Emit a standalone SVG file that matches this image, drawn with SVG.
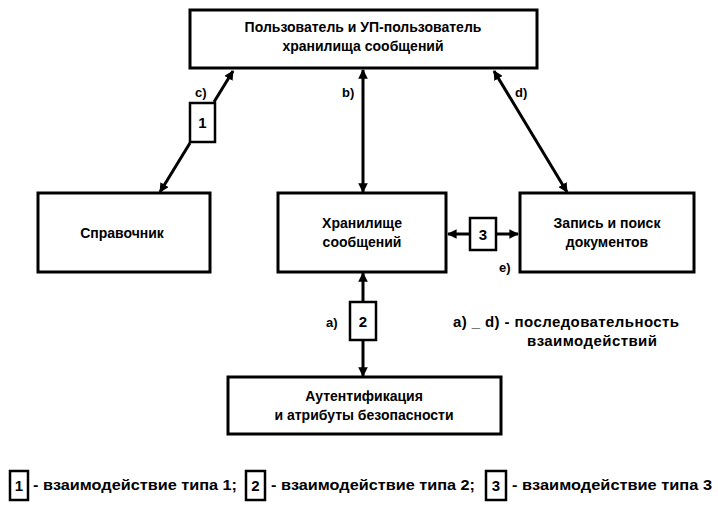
<svg xmlns="http://www.w3.org/2000/svg" width="718" height="514" viewBox="0 0 718 514">
<style>
.box{fill:#fff;stroke:#000;stroke-width:3}
.sbox{fill:#fff;stroke:#000;stroke-width:2.5}
.t{font-family:"Liberation Sans",Arial,sans-serif;font-weight:bold;font-size:14px;fill:#000;text-anchor:middle}
.n{font-family:"Liberation Sans",Arial,sans-serif;font-weight:bold;font-size:15px;fill:#000;text-anchor:middle}
.l{font-family:"Liberation Sans",Arial,sans-serif;font-weight:bold;font-size:13px;fill:#000}
.g{font-family:"Liberation Sans",Arial,sans-serif;font-weight:bold;font-size:15px;fill:#000}
.c{stroke:#000;stroke-width:3;fill:none}
</style>
<defs>
<marker id="ah" viewBox="0 0 10 10" refX="9" refY="5" markerWidth="3.2" markerHeight="3.2" orient="auto-start-reverse" markerUnits="strokeWidth">
<path d="M0,0 L10,5 L0,10 z" fill="#000"/>
</marker>
</defs>
<g id="connectors">
<line class="c" x1="214" y1="102" x2="233" y2="71" marker-end="url(#ah)"/>
<line class="c" x1="190" y1="143" x2="160" y2="192" marker-end="url(#ah)"/>
<line class="c" x1="363" y1="70" x2="363" y2="192" marker-start="url(#ah)" marker-end="url(#ah)"/>
<line class="c" x1="494" y1="71" x2="567" y2="192" marker-start="url(#ah)" marker-end="url(#ah)"/>
<line class="c" x1="448" y1="234" x2="470" y2="234" marker-start="url(#ah)"/>
<line class="c" x1="496" y1="234" x2="518" y2="234" marker-end="url(#ah)"/>
<line class="c" x1="363" y1="273" x2="363" y2="302" marker-start="url(#ah)"/>
<line class="c" x1="363" y1="340" x2="363" y2="376" marker-end="url(#ah)"/>
</g>
<g id="user">
<rect class="box" x="190" y="10" width="347" height="58"/>
<text class="t" x="363" y="32">Пользователь и УП-пользователь</text>
<text class="t" x="363" y="51">хранилища сообщений</text>
</g>
<g id="directory">
<rect class="box" x="38" y="193" width="172" height="79"/>
<text class="t" x="122" y="238">Справочник</text>
</g>
<g id="store">
<rect class="box" x="278" y="193" width="168" height="79"/>
<text class="t" x="362" y="228">Хранилище</text>
<text class="t" x="362" y="247">сообщений</text>
</g>
<g id="docs">
<rect class="box" x="520" y="193" width="174" height="79"/>
<text class="t" x="607" y="228">Запись и поиск</text>
<text class="t" x="607" y="247">документов</text>
</g>
<g id="auth">
<rect class="box" x="228" y="377" width="273" height="57"/>
<text class="t" x="364" y="401">Аутентификация</text>
<text class="t" x="364" y="420">и атрибуты безопасности</text>
</g>
<g id="i1">
<rect class="sbox" x="190" y="103" width="25" height="39"/>
<text class="n" x="202.5" y="128">1</text>
</g>
<g id="i2">
<rect class="sbox" x="350" y="302" width="26" height="38"/>
<text class="n" x="363" y="327">2</text>
</g>
<g id="i3">
<rect class="sbox" x="470" y="218" width="26" height="32"/>
<text class="n" x="483" y="240">3</text>
</g>
<g id="labels">
<text class="l" x="195" y="97">c)</text>
<text class="l" x="342" y="97">b)</text>
<text class="l" x="515" y="97">d)</text>
<text class="l" x="499" y="272">e)</text>
<text class="l" x="326" y="327">a)</text>
<text class="g" x="453" y="327" textLength="226" lengthAdjust="spacing">a) _ d) - последовательность</text>
<text class="g" x="527" y="346" textLength="130" lengthAdjust="spacing">взаимодействий</text>
</g>
<g id="legend">
<rect class="sbox" x="10" y="471" width="18" height="29"/>
<text class="n" x="19" y="491">1</text>
<text class="g" x="33" y="490" textLength="204" lengthAdjust="spacingAndGlyphs">- взаимодействие типа 1;</text>
<rect class="sbox" x="246" y="471" width="19" height="29"/>
<text class="n" x="255.5" y="491">2</text>
<text class="g" x="271" y="490" textLength="204" lengthAdjust="spacingAndGlyphs">- взаимодействие типа 2;</text>
<rect class="sbox" x="486" y="471" width="20" height="29"/>
<text class="n" x="496" y="491">3</text>
<text class="g" x="512" y="490" textLength="200" lengthAdjust="spacingAndGlyphs">- взаимодействие типа 3</text>
</g>
</svg>
